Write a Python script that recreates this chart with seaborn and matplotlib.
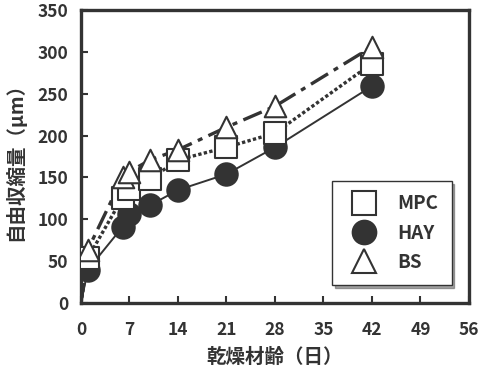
import numpy as np
import pandas as pd
import matplotlib
matplotlib.use("Agg")
import matplotlib.pyplot as plt
import seaborn as sns
from matplotlib.lines import Line2D

days = [0, 1, 6, 7, 10, 14, 21, 28, 42]
mpc = [0, 54, 126, 136, 148, 171, 186, 203, 286]
hay = [0, 40, 91, 106, 117, 135, 154, 186, 259]
bs = [0, 64, 150, 157, 171, 183, 210, 235, 306]
series = ["MPC", "HAY", "BS"]

sns.set_style("ticks")
plt.rcParams['font.family'] = ['Noto Sans CJK JP', 'DejaVu Sans']

df = pd.DataFrame({"day": days * 3,
                   "value": mpc + hay + bs,
                   "series": [s for s in series for _ in days]})

ink = "#333333"
fig, ax = plt.subplots(figsize=(4.85, 3.67), dpi=100)

styles = {"MPC": (0, (1, 0.7)), "HAY": "-", "BS": (0, (6, 2, 1.5, 2))}
markers = {"MPC": "s", "HAY": "o", "BS": "^"}
for s in series:
    sub = df[df["series"] == s]
    sns.lineplot(data=sub, x="day", y="value", ax=ax, color=ink,
                 linewidth=2.4 if s != "HAY" else 1.4, linestyle=styles[s], legend=False)

# markers (origin point drawn without marker)
sizes = {"HAY": 260, "MPC": 250, "BS": 240}
for s in ["HAY", "MPC", "BS"]:
    sub = df[(df["series"] == s) & (df["day"] > 0)]
    face = ink if s == "HAY" else "white"
    sns.scatterplot(data=sub, x="day", y="value", ax=ax, marker=markers[s],
                    s=sizes[s], facecolor=face,
                    edgecolor=ink, linewidth=1.5, legend=False, zorder=3)

ax.set_xlim(0, 56)
ax.set_ylim(0, 350)
ax.set_xticks(np.arange(0, 57, 7))
ax.set_yticks(np.arange(0, 351, 50))
ax.tick_params(direction="in", length=5, width=1.5, labelsize=12.5, colors=ink)
ax.tick_params(axis="x", pad=13)
ax.tick_params(axis="y", pad=9)
for lab in ax.get_xticklabels() + ax.get_yticklabels():
    lab.set_fontweight("bold")
for sp in ax.spines.values():
    sp.set_visible(True)
    sp.set_linewidth(2.4)
    sp.set_color(ink)

ax.set_xlabel("乾燥材齢（日）", fontsize=14, fontweight="bold", labelpad=6, color=ink)
ax.set_ylabel("自由収縮量（μm）", fontsize=14, fontweight="bold", labelpad=9, color=ink)

handles = [Line2D([], [], linestyle="none", marker=markers[s], markersize=17,
                  markerfacecolor=ink if s == "HAY" else "white",
                  markeredgecolor=ink, markeredgewidth=1.5) for s in series]
leg = ax.legend(handles, series, loc="lower right", bbox_to_anchor=(0.955, 0.062),
                frameon=True, fancybox=False, shadow=True, fontsize=13.5,
                handletextpad=0.8, labelspacing=0.55, borderpad=0.7, borderaxespad=0)
leg.get_frame().set_edgecolor(ink)
leg.get_frame().set_linewidth(1.0)
for t in leg.get_texts():
    t.set_fontweight("bold")
    t.set_color(ink)

fig.subplots_adjust(left=0.167, right=0.967, bottom=0.174, top=0.973)
fig.savefig("out.png", dpi=100)
